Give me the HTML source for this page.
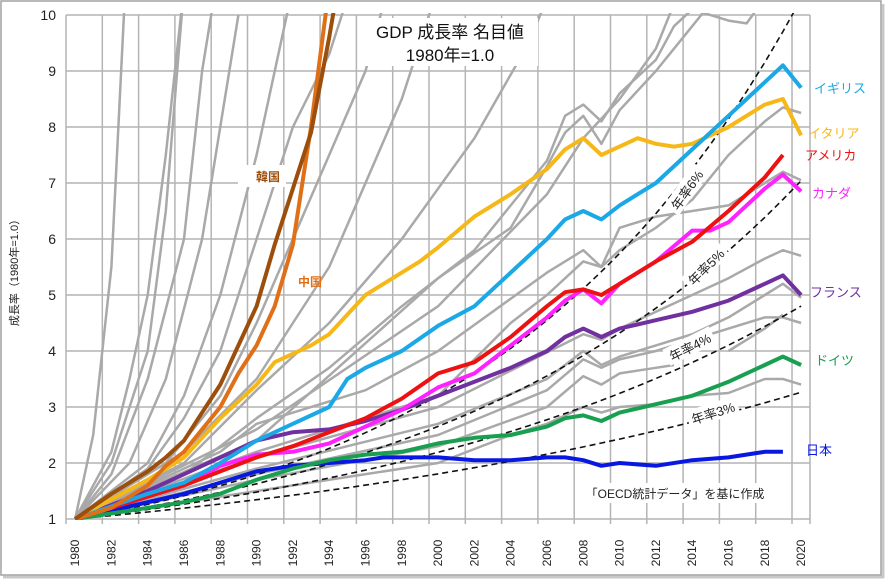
<!DOCTYPE html>
<html><head><meta charset="utf-8">
<style>
html,body{margin:0;padding:0;background:#fff;}
svg{display:block;font-family:"Liberation Sans","Noto Sans CJK JP",sans-serif;}
</style></head>
<body>
<svg id="chart" width="886" height="580" viewBox="0 0 886 580">
<rect x="1" y="1" width="880" height="574" fill="#fff" stroke="#a0a0a0" stroke-width="1.5"/>
<line x1="3" y1="577" x2="884" y2="577" stroke="#c8c8c8" stroke-width="3"/>
<line x1="883" y1="4" x2="883" y2="578" stroke="#c8c8c8" stroke-width="3"/>
<g id="grid"></g>
<g id="yticks"></g>
<g id="xticks"></g>
<g id="clip-area">
<g id="gray"></g>
<g id="dashed"></g>
<g id="main"></g>
</g>
<g id="labels"></g>
<text x="18" y="270" font-size="11" fill="#222" text-anchor="middle" transform="rotate(-90 18 270)">成長率（1980年=1.0）</text>
<rect x="362" y="18" width="176" height="48" fill="#fff"/>
<text x="450" y="38" font-size="17" fill="#111" text-anchor="middle">GDP 成長率 名目値</text>
<text x="450" y="61" font-size="17" fill="#111" text-anchor="middle">1980年=1.0</text>
<rect x="580" y="483" width="190" height="20" fill="#fff"/>
<text x="675" y="498" font-size="12" fill="#222" text-anchor="middle">「OECD統計データ」を基に作成</text>
</svg>
<script>
const NS="http://www.w3.org/2000/svg";
const yTicks=[1,2,3,4,5,6,7,8,9,10];
const xTickYears=[1980,1982,1984,1986,1988,1990,1992,1994,1996,1998,2000,2002,2004,2006,2008,2010,2012,2014,2016,2018,2020];
const refRates=[0.03,0.04,0.05,0.06];
const refLabels=["年率3%","年率4%","年率5%","年率6%"];
const ukYears=[1980,1984,1986,1988,1990,1992,1994,1995,1996,1998,2000,2002,2004,2006,2007,2008,2009,2010,2012,2014,2016,2018,2019,2020];
const ukVals=[1,1.45,1.65,2.0,2.4,2.7,3.0,3.5,3.7,4.0,4.45,4.8,5.4,6.0,6.35,6.5,6.35,6.6,7.0,7.6,8.2,8.8,9.1,8.7];
const itYears=[1980,1984,1986,1988,1990,1991,1993,1994,1996,1998,1999,2000,2002,2004,2006,2007,2008,2009,2010,2011,2012,2013,2014,2016,2018,2019,2020];
const itVals=[1,1.7,2.1,2.8,3.4,3.8,4.1,4.3,5.0,5.4,5.6,5.85,6.4,6.8,7.25,7.6,7.8,7.5,7.65,7.8,7.7,7.65,7.7,8.0,8.4,8.5,7.85];
const usYears=[1980,1984,1986,1988,1990,1992,1994,1996,1998,2000,2002,2004,2006,2007,2008,2009,2010,2012,2014,2016,2018,2019];
const usVals=[1,1.4,1.6,1.85,2.1,2.3,2.55,2.8,3.15,3.6,3.8,4.25,4.8,5.05,5.1,5.0,5.2,5.6,5.95,6.5,7.1,7.5];
const caYears=[1980,1984,1986,1988,1990,1992,1994,1996,1998,2000,2002,2004,2006,2007,2008,2009,2010,2012,2014,2015,2016,2018,2019,2020];
const caVals=[1,1.4,1.6,1.95,2.15,2.2,2.35,2.65,2.95,3.35,3.6,4.1,4.6,4.9,5.1,4.85,5.2,5.6,6.15,6.15,6.3,6.9,7.15,6.85];
const frYears=[1980,1984,1986,1988,1990,1992,1994,1996,1998,2000,2002,2004,2006,2007,2008,2009,2010,2012,2014,2016,2018,2019,2020];
const frVals=[1,1.5,1.8,2.1,2.4,2.55,2.6,2.75,2.95,3.2,3.45,3.7,4.0,4.25,4.4,4.25,4.4,4.55,4.7,4.9,5.2,5.35,5.0];
const deYears=[1980,1984,1986,1988,1990,1992,1994,1996,1998,2000,2002,2004,2006,2007,2008,2009,2010,2012,2014,2016,2018,2019,2020];
const deVals=[1,1.2,1.3,1.45,1.7,1.9,2.05,2.15,2.2,2.35,2.45,2.5,2.65,2.8,2.85,2.75,2.9,3.05,3.2,3.45,3.75,3.9,3.75];
const jpYears=[1980,1984,1986,1988,1990,1992,1994,1996,1997,1998,2000,2002,2004,2006,2007,2008,2009,2010,2012,2014,2016,2018,2019];
const jpVals=[1,1.3,1.45,1.65,1.85,1.95,2.0,2.05,2.1,2.1,2.1,2.05,2.05,2.1,2.1,2.05,1.95,2.0,1.95,2.05,2.1,2.2,2.2];
const krYears=[1980,1982,1984,1985,1986,1987,1988,1989,1990,1991,1992,1993,1994,1995];
const krVals=[1,1.45,1.85,2.1,2.4,2.9,3.4,4.1,4.8,5.9,6.9,7.9,9.6,11.5];
const cnYears=[1980,1982,1984,1985,1986,1987,1988,1989,1990,1991,1992,1993,1994];
const cnVals=[1,1.2,1.6,1.95,2.2,2.6,3.0,3.6,4.1,4.8,5.9,8.0,10.5];
const grayYears=[
[1980,1981,1982,1983],[1980,1982,1983,1984,1985,1986],[1980,1982,1984,1985,1986],[1980,1982,1984,1986,1987,1988],
[1980,1983,1985,1987,1989],[1980,1984,1986,1988,1990,1992],[1980,1984,1986,1988,1990,1992,1994,1995],
[1980,1985,1988,1990,1992,1994,1996,1997],[1980,1986,1990,1994,1998,2000],[1980,1986,1990,1994,1998,2002,2005,2006],
[1980,1986,1990,1994,1998,2002,2004,2006,2007,2008,2009,2010,2012,2013,2014,2016,2017,2018],
[1980,1990,2000,2004,2006,2007,2008,2009,2010,2012,2014,2015],[1980,1990,2000,2006,2008,2010,2012,2013],
[1980,1988,1990,1994,1996,2000,2006,2008,2009,2010,2012,2014,2016,2018,2019,2020],
[1980,1990,2000,2004,2006,2008,2009,2010,2012,2014,2016,2018,2019,2020],
[1980,1990,2000,2008,2009,2010,2012,2014,2016,2018,2019,2020],
[1980,1990,2000,2006,2008,2009,2010,2012,2014,2016,2018,2019,2020],
[1980,1990,2000,2006,2008,2009,2010,2012,2014,2016,2018,2019,2020],
[1980,1990,2000,2006,2008,2009,2010,2012,2013],[2016,2018,2019],
[1980,1990,2000,2004,2006,2008,2009,2010,2012,2014,2016,2018,2019,2020]];
const grayVals=[
[1,2.5,5.5,12],[1,2.2,3.5,5,7.5,10.5],[1,2.0,4.0,6.5,10.5],[1,1.8,3.5,6,9,11],
[1,2,3.5,6,10],[1,2,3.2,5,7.5,10.5],[1,1.9,2.8,4,6,8,9.3,10.3],
[1,2,3.2,4.5,6,7.5,9,10.2],[1,2.2,3.5,5.5,8.5,10.5],[1,2,3.3,4.5,6,7.8,9.5,10.3],
[1,1.8,2.8,3.7,4.8,5.8,6.6,7.4,8.2,8.4,8.1,8.6,9.2,9.8,10.1,9.9,9.85,10.3],
[1,2.4,5.3,6.2,7.3,7.9,8.2,7.7,8.3,9.0,9.8,10.2],[1,2.6,4.8,6.8,7.8,8.5,9.4,10.2],
[1,2.2,2.7,3.1,3.3,4.0,5.4,5.8,5.5,5.8,6.2,6.7,7.5,8.1,8.35,8.25],
[1,2.2,3.2,4.5,5.0,5.6,5.5,6.2,6.4,6.5,6.6,7.0,7.2,7.05],
[1,2.1,3.0,4.3,4.2,4.4,4.7,5.0,5.3,5.65,5.8,5.7],
[1,1.9,2.7,3.5,4.0,3.75,3.9,4.1,4.3,4.6,5.0,5.2,4.95],
[1,1.8,2.5,3.3,3.85,3.7,3.85,4.0,4.2,4.4,4.6,4.6,4.5],
[1,1.7,2.3,3.0,3.55,3.4,3.6,3.7,3.75],[4.0,4.4,4.65],
[1,1.5,2.0,2.5,2.7,3.0,2.9,3.0,3.05,3.2,3.25,3.5,3.5,3.4]];

function xScale(yr){return 66+(yr-1980+0.5)*18.15;}
function yScale(v){return 15+(10-v)*56;}
function el(tag,attrs,parent){const e=document.createElementNS(NS,tag);for(const k in attrs)e.setAttribute(k,attrs[k]);parent.appendChild(e);return e;}

const svg=document.getElementById('chart');
const defs=el('defs',{},svg);
const cp=el('clipPath',{id:'plotclip'},defs);
el('rect',{x:66,y:13,width:760,height:507},cp);
document.getElementById('clip-area').setAttribute('clip-path','url(#plotclip)');

const grid=document.getElementById('grid');
yTicks.forEach(v=>{
  const l=el('line',{x1:66,x2:810,y1:yScale(v),y2:yScale(v),stroke:'#b4b4b4','stroke-width':1.5},grid);
  
  
  const t=el('text',{x:56,y:yScale(v)+5,'font-size':14,'text-anchor':'end',fill:'#222'},document.getElementById('yticks'));
  t.textContent=v;
  
  
});
xTickYears.forEach(yr=>{
  const gx=xScale(yr)-9.07;
  const l=el('line',{x1:gx,x2:gx,y1:15,y2:524,stroke:'#b4b4b4','stroke-width':1.5},grid);
  
  
  const cx=xScale(yr)+4;
  const t=el('text',{x:cx,y:553,'font-size':12,'text-anchor':'middle',fill:'#222',transform:`rotate(-90 ${cx} 553)`},document.getElementById('xticks'));
  t.textContent=yr;
  
  
});
el('line',{x1:810,x2:810,y1:15,y2:524,stroke:'#b4b4b4','stroke-width':1.5},grid);

function pathD(ys,vs){return ys.map((y,i)=>(i?'L':'M')+xScale(y).toFixed(1)+','+yScale(vs[i]).toFixed(1)).join(' ');}

const gray=document.getElementById('gray');
grayYears.forEach((ys,i)=>{
  const p=el('path',{d:pathD(ys,grayVals[i]),fill:'none',stroke:'#a9a9a9','stroke-width':2.5,'stroke-linejoin':'round'},gray);
  
  
});

const dashed=document.getElementById('dashed');
const refYears=[];for(let y=1980;y<=2020;y++)refYears.push(y);
refRates.forEach((r,i)=>{
  const vals=refYears.map(y=>Math.pow(1+r,y-1980));
  const p=el('path',{d:pathD(refYears,vals),fill:'none',stroke:'#111','stroke-width':1.6,'stroke-dasharray':'6,4'},dashed);
  
  
});

const main=document.getElementById('main');
const series=[
 ['japan',jpYears,jpVals,'#0818e0'],['germany',deYears,deVals,'#18a050'],['france',frYears,frVals,'#7030a0'],
 ['canada',caYears,caVals,'#ff22ff'],['usa',usYears,usVals,'#ee1111'],['italy',itYears,itVals,'#f5b818'],
 ['uk',ukYears,ukVals,'#1aa8e6'],['china',cnYears,cnVals,'#e07018'],['korea',krYears,krVals,'#9c4e0c']];
series.forEach(s=>{
  const p=el('path',{d:pathD(s[1],s[2]),fill:'none',stroke:s[3],'stroke-width':4,'stroke-linejoin':'round'},main);
  
  
});

const labels=document.getElementById('labels');
const refPos=[[713,413,-18],[690,347,-27],[706,267,-45],[687,190,-55]];
refPos.forEach((p,i)=>{
  const g=el('g',{transform:`translate(${p[0]} ${p[1]}) rotate(${p[2]})`},labels);
  el('rect',{x:-26,y:-10,width:52,height:18,fill:'#fff'},g);
  const t=el('text',{x:0,y:5,'font-size':13,'text-anchor':'middle',fill:'#222'},g);
  t.textContent=refLabels[i];
  
  
});
const names=[['イギリス',814,93,'#1aa8e6'],['イタリア',808,138,'#f5b818'],['アメリカ',805,160,'#ee1111'],['カナダ',812,198,'#ff22ff'],
 ['フランス',810,297,'#7030a0'],['ドイツ',815,365,'#18a050'],['日本',806,455,'#0818e0']];
names.forEach(n=>{
  const t=el('text',{x:n[1],y:n[2],'font-size':13,fill:n[3]},labels);
  t.textContent=n[0];
  
  
});
el('rect',{x:238,y:165,width:48,height:22,fill:'#fff'},labels);
const kr=el('text',{x:256,y:181,'font-size':12,fill:'#9c4e0c','font-weight':'bold'},labels);
kr.textContent='韓国';


const cn=el('text',{x:298,y:286,'font-size':12,fill:'#e07018','font-weight':'bold'},labels);
cn.textContent='中国';


</script>
</body></html>
